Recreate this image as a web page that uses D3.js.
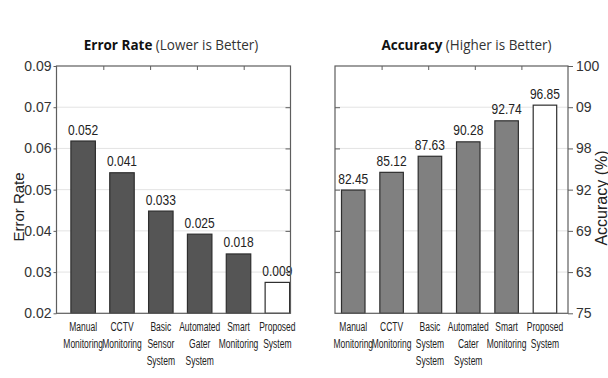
<!DOCTYPE html>
<html>
<head>
<meta charset="utf-8">
<script src="https://cdn.jsdelivr.net/npm/d3@7"></script>
<style>
  html, body { margin: 0; padding: 0; background: #fff; }
  svg { display: block; }
</style>
</head>
<body>
<svg id="chart" width="608" height="378"></svg>
<script>
// ---------------- DATA ----------------
const errorCategories = [
  ["Manual", "Monitoring"],
  ["CCTV", "Monitoring"],
  ["Basic", "Sensor", "System"],
  ["Automated", "Gater", "System"],
  ["Smart", "Monitoring"],
  ["Proposed", "System"]
];
const accuracyCategories = [
  ["Manual", "Monitoring"],
  ["CCTV", "Monitoring"],
  ["Basic", "System", "System"],
  ["Automated", "Cater", "System"],
  ["Smart", "Monitoring"],
  ["Proposed", "System"]
];
// value labels printed above the bars
const errorRates = [0.052, 0.041, 0.033, 0.025, 0.018, 0.009];
const accuracyValues = [82.45, 85.12, 87.63, 90.28, 92.74, 96.85];
// bar heights as drawn, measured on each axis' tick grid (0 = bottom tick, 6 = top tick)
const errorBarLevels = [4.18, 3.41, 2.48, 1.92, 1.44, 0.75];
const accuracyBarLevels = [2.99, 3.42, 3.81, 4.16, 4.67, 5.05];
// axis tick labels, bottom to top, as printed
const errorTickLabels = ["0.02", "0.03", "0.04", "0.05", "0.06", "0.07", "0.09"];
const accuracyTickLabels = ["75", "63", "69", "92", "98", "09", "100"];

// ---------------- LAYOUT ----------------
const svg = d3.select("#chart");
const plotTop = 66, plotBottom = 313.3;
const tickFont = "'Liberation Sans', Arial, sans-serif";
const titleFont = "'Open Sans', 'Noto Sans', sans-serif";

function drawPanel(opts) {
  const g = svg.append("g");
  const x0 = opts.frame[0], x1 = opts.frame[1];
  const y = d3.scaleLinear().domain([0, 6]).range([plotBottom, plotTop]);
  const x = d3.scaleBand()
    .domain(d3.range(opts.levels.length))
    .range(opts.bandRange)
    .paddingInner(opts.padInner)
    .paddingOuter(0);
  const levels = d3.range(opts.tickLabels.length);
  const cx = i => x(i) + x.bandwidth() / 2;

  // gridlines
  g.append("g").selectAll("line").data(levels.slice(1, -1)).join("line")
    .attr("x1", x0).attr("x2", x1)
    .attr("y1", d => y(d)).attr("y2", d => y(d))
    .attr("stroke", "#e3e3e3").attr("stroke-width", 1);

  // bars
  g.append("g").selectAll("rect").data(opts.levels).join("rect")
    .attr("x", (d, i) => x(i))
    .attr("width", x.bandwidth())
    .attr("y", d => y(d))
    .attr("height", d => y(0) - y(d))
    .attr("fill", (d, i) => i === opts.levels.length - 1 ? "#ffffff" : opts.fill)
    .attr("stroke", "#2e2e2e")
    .attr("stroke-width", 1.2);

  // value labels
  g.append("g").selectAll("text").data(opts.values).join("text")
    .attr("transform", (d, i) => `translate(${cx(i)},${y(opts.levels[i]) - 6.5}) scale(0.86,1)`)
    .attr("text-anchor", "middle")
    .attr("font-family", tickFont)
    .attr("font-size", 14)
    .attr("fill", "#222")
    .text(d => opts.fmt(d));

  // frame
  g.append("rect")
    .attr("x", x0).attr("y", plotTop)
    .attr("width", x1 - x0).attr("height", plotBottom - plotTop)
    .attr("fill", "none").attr("stroke", "#5e5e5e").attr("stroke-width", 1.2);

  // top inner ticks (5 equal divisions)
  const xt = d3.scaleLinear().domain([0, 5]).range([x0, x1]);
  const topAxis = d3.axisTop(xt).tickValues([1, 2, 3, 4]).tickSize(-4).tickSizeOuter(0).tickFormat("");
  g.append("g").attr("transform", `translate(0,${plotTop})`).call(topAxis)
    .call(a => a.select(".domain").remove())
    .call(a => a.selectAll("line").attr("stroke", "#5e5e5e"));

  // value axis (outer side) with labels
  const outerAxis = (opts.side === "left" ? d3.axisLeft(y) : d3.axisRight(y))
    .tickValues(levels).tickSize(opts.side === "left" ? 3 : 5).tickSizeOuter(0)
    .tickPadding(opts.side === "left" ? 2 : 3)
    .tickFormat(d => opts.tickLabels[d]);
  g.append("g")
    .attr("transform", `translate(${opts.side === "left" ? x0 : x1},0)`)
    .call(outerAxis)
    .call(a => a.select(".domain").remove())
    .call(a => a.selectAll("line").attr("stroke", "#5e5e5e"))
    .call(a => a.selectAll("text").attr("font-family", tickFont).attr("font-size", 14).attr("fill", "#333"));

  // inner ticks on opposite side
  const innerAxis = (opts.side === "left" ? d3.axisRight(y) : d3.axisLeft(y))
    .tickValues(levels.slice(1, -1)).tickSize(-5).tickSizeOuter(0).tickFormat("");
  g.append("g")
    .attr("transform", `translate(${opts.side === "left" ? x1 : x0},0)`)
    .call(innerAxis)
    .call(a => a.select(".domain").remove())
    .call(a => a.selectAll("line").attr("stroke", "#5e5e5e"));

  // category labels (condensed)
  const cat = g.append("g").selectAll("text").data(opts.categories).join("text")
    .attr("text-anchor", "middle")
    .attr("font-family", tickFont)
    .attr("font-size", 13.5)
    .attr("fill", "#222")
    .attr("transform", (d, i) => `translate(${cx(i)},0) scale(0.63,1)`);
  cat.selectAll("tspan").data(d => d).join("tspan")
    .attr("x", 0)
    .attr("y", (d, j) => 330.8 + j * 17)
    .text(d => d);

  // title
  const t = svg.append("text")
    .attr("transform", `translate(${opts.titleX},50) scale(0.9,1)`)
    .attr("text-anchor", "middle")
    .attr("font-family", titleFont)
    .attr("font-size", 15)
    .attr("fill", "#111");
  t.append("tspan").attr("font-weight", "bold").text(opts.titleBold);
  t.append("tspan").attr("fill", "#333").text(" " + opts.titleRest);

  // axis title
  svg.append("text")
    .attr("transform", `translate(${opts.yLabelPos[0]},${opts.yLabelPos[1]}) rotate(-90)`)
    .attr("text-anchor", "middle")
    .attr("dominant-baseline", "central")
    .attr("font-family", tickFont)
    .attr("font-size", opts.yLabelSize)
    .attr("fill", "#222")
    .text(opts.yLabel);
}

drawPanel({
  frame: [56.5, 290.5],
  bandRange: [70.9, 289.6],
  padInner: 0.37,
  levels: errorBarLevels,
  values: errorRates,
  fmt: d3.format(".3f"),
  tickLabels: errorTickLabels,
  categories: errorCategories,
  fill: "#555555",
  side: "left",
  titleX: 171, titleBold: "Error Rate", titleRest: "(Lower is Better)",
  yLabel: "Error Rate", yLabelPos: [18, 207], yLabelSize: 15
});

drawPanel({
  frame: [335, 568],
  bandRange: [341.5, 556.7],
  padInner: 0.387,
  levels: accuracyBarLevels,
  values: accuracyValues,
  fmt: d3.format(".2f"),
  tickLabels: accuracyTickLabels,
  categories: accuracyCategories,
  fill: "#808080",
  side: "right",
  titleX: 466.5, titleBold: "Accuracy", titleRest: "(Higher is Better)",
  yLabel: "Accuracy (%)", yLabelPos: [601, 198], yLabelSize: 16
});
</script>
</body>
</html>
